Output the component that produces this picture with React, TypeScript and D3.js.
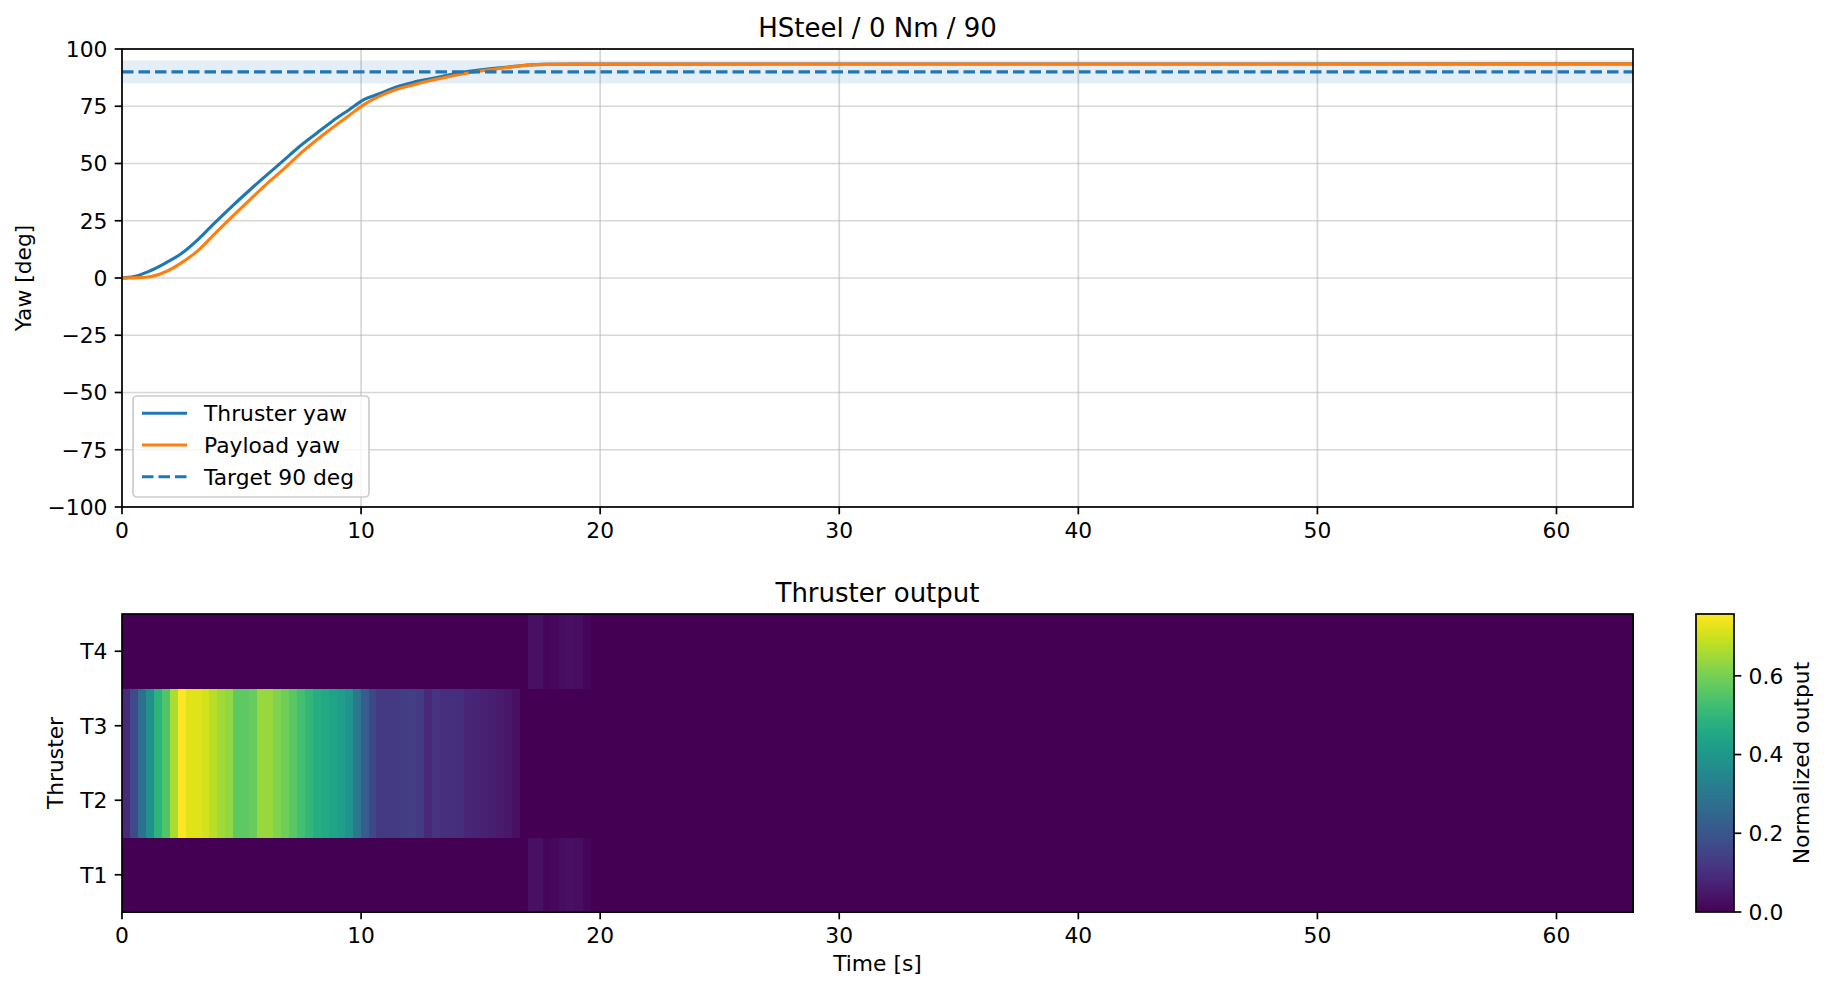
import React from "react";
import * as d3 from "d3";

// yaw response
const times = [0, 0.5, 1.1, 1.8, 2.5, 3.2, 3.9, 4.6, 5.3, 6.0, 6.7, 7.4, 8.1, 8.8, 9.5, 10.1, 10.8, 11.5, 12.2, 12.9, 13.6, 14.3, 15.0, 15.7, 16.4, 17.0, 17.7, 19.1, 63.2];
const thrusterYaw = [0, 0.6, 2.8, 6.4, 10.8, 17.0, 24.3, 31.3, 38.0, 44.5, 50.8, 57.2, 62.9, 68.5, 73.5, 77.8, 80.6, 83.5, 85.5, 87.0, 88.5, 89.9, 90.9, 91.7, 92.4, 93.0, 93.3, 93.4, 93.5];
const payloadYaw = [0, 0.05, 0.4, 2.6, 6.7, 12.2, 19.5, 26.7, 33.7, 40.6, 47.0, 53.8, 59.9, 65.6, 71.0, 75.6, 79.5, 82.4, 84.4, 86.2, 87.8, 89.2, 90.4, 91.4, 92.3, 93.0, 93.3, 93.4, 93.5];
const targetYaw = 90;
const targetBand = [85, 95];

const yawTicks = [-100, -75, -50, -25, 0, 25, 50, 75, 100];
const timeTicks = [0, 10, 20, 30, 40, 50, 60];
const tEnd = 63.2;

// thruster output heatmap (one column per sample)
const thrusterNames = ["T1", "T2", "T3", "T4"];
const nCols = 190;
const middleThrusters = [0.09, 0.17, 0.28, 0.38, 0.49, 0.55, 0.66, 0.757, 0.72, 0.72, 0.705, 0.68, 0.65, 0.63, 0.57, 0.57, 0.58, 0.64, 0.64, 0.61, 0.59, 0.56, 0.53, 0.5, 0.47, 0.46, 0.44, 0.42, 0.39, 0.3, 0.22, 0.16, 0.13, 0.13, 0.13, 0.135, 0.14, 0.125, 0.085, 0.115, 0.105, 0.105, 0.1, 0.08, 0.075, 0.07, 0.065, 0.055, 0.045, 0.03];
const outerStart = 51;
const outerThrusters = [0.03, 0.03, 0.01, 0.015, 0.025, 0.03, 0.025, 0.01];
const cbarTicks = [0, 0.2, 0.4, 0.6];

const FONT = "DejaVu Sans";
const FS = 21.8;
const TITLE_FS = 26;

const top = { l: 122, r: 1633, t: 49, b: 507 };
const heat = { l: 122, r: 1633, t: 614, b: 912 };
const cbar = { l: 1696, r: 1734, t: 614, b: 912 };

function padRow(start: number, vals: number[]) {
  const row = new Array(nCols).fill(0);
  vals.forEach((v, i) => (row[start + i] = v));
  return row;
}

const rows = [
  padRow(outerStart, outerThrusters),
  padRow(0, middleThrusters),
  padRow(0, middleThrusters),
  padRow(outerStart, outerThrusters),
];

const fmtYaw = (v: number) => (v < 0 ? "\u2212" + Math.abs(v) : String(v));

export default function App() {
  const x = d3.scaleLinear().domain([0, tEnd]).range([top.l, top.r]);
  const y = d3.scaleLinear().domain([-100, 100]).range([top.b, top.t]);
  const rowY = d3.scaleBand().domain([...thrusterNames].reverse()).range([heat.t, heat.b]);
  const vmax = d3.max(middleThrusters) as number;
  const color = d3.scaleSequential(d3.interpolateViridis).domain([0, vmax]);
  const cy = d3.scaleLinear().domain([0, vmax]).range([cbar.b, cbar.t]);
  const dt = tEnd / nCols;

  const line = d3
    .line<number>()
    .x((_, i) => x(times[i]))
    .y((d) => y(d))
    .curve(d3.curveMonotoneX);

  const gridColor = "#b0b0b0";
  const tick = 7.3;
  const sw = 1.7;

  const legend = [
    { label: "Thruster yaw", color: "#1f77b4", dash: "" },
    { label: "Payload yaw", color: "#ff7f0e", dash: "" },
    { label: "Target 90 deg", color: "#1f77b4", dash: "11.5,5" },
  ];

  return (
    <svg width={1829} height={992} style={{ position: "absolute", left: 0, top: 0 }} fontFamily={FONT}>
      <defs>
        <clipPath id="topClip">
          <rect x={top.l} y={top.t} width={top.r - top.l} height={top.b - top.t} />
        </clipPath>
        <linearGradient id="viridis" x1="0" y1="1" x2="0" y2="0">
          {d3.range(0, 1.0001, 0.05).map((f) => (
            <stop key={f} offset={f} stopColor={d3.interpolateViridis(f)} />
          ))}
        </linearGradient>
      </defs>
      <rect width={1829} height={992} fill="#fff" />

      {/* ---------- top: yaw ---------- */}
      <g>
        {yawTicks.map((t) => (
          <line key={"gy" + t} x1={top.l} x2={top.r} y1={y(t)} y2={y(t)} stroke={gridColor} strokeOpacity={0.5} strokeWidth={1.7} />
        ))}
        {timeTicks.map((t) => (
          <line key={"gx" + t} x1={x(t)} x2={x(t)} y1={top.t} y2={top.b} stroke={gridColor} strokeOpacity={0.5} strokeWidth={1.7} />
        ))}
        <g clipPath="url(#topClip)">
          <rect x={top.l} width={top.r - top.l} y={y(targetBand[1])} height={y(targetBand[0]) - y(targetBand[1])} fill="#1f77b4" fillOpacity={0.12} />
          <path d={line(thrusterYaw) || ""} fill="none" stroke="#1f77b4" strokeWidth={3.1} />
          <path d={line(payloadYaw) || ""} fill="none" stroke="#ff7f0e" strokeWidth={3.1} />
          <line x1={x(0)} x2={top.r} y1={y(targetYaw)} y2={y(targetYaw)} stroke="#1f77b4" strokeWidth={3.1} strokeDasharray="11.5,5" />
        </g>
        <rect x={top.l} y={top.t} width={top.r - top.l} height={top.b - top.t} fill="none" stroke="#000" strokeWidth={sw} />
        {yawTicks.map((t) => (
          <g key={"ty" + t}>
            <line x1={top.l - tick} x2={top.l} y1={y(t)} y2={y(t)} stroke="#000" strokeWidth={sw} />
            <text x={top.l - tick - 7.3} y={y(t)} dy="0.36em" textAnchor="end" fontSize={FS}>
              {fmtYaw(t)}
            </text>
          </g>
        ))}
        {timeTicks.map((t) => (
          <g key={"tx" + t}>
            <line x1={x(t)} x2={x(t)} y1={top.b} y2={top.b + tick} stroke="#000" strokeWidth={sw} />
            <text x={x(t)} y={top.b + tick + 7.3} dy="0.76em" textAnchor="middle" fontSize={FS}>
              {t}
            </text>
          </g>
        ))}
        <text transform={`translate(31,${(top.t + top.b) / 2}) rotate(-90)`} textAnchor="middle" fontSize={FS}>
          Yaw [deg]
        </text>
        <text x={(top.l + top.r) / 2} y={top.t - 12.5} textAnchor="middle" fontSize={TITLE_FS}>
          HSteel / 0 Nm / 90
        </text>

        {/* legend */}
        <rect x={133} y={396} width={236} height={101} rx={4} fill="#fff" fillOpacity={0.8} stroke="#cccccc" strokeWidth={1.7} />
        {legend.map((d, i) => {
          const cyL = 413.3 + i * 31.7;
          return (
            <g key={d.label}>
              <line x1={142} x2={187} y1={cyL} y2={cyL} stroke={d.color} strokeWidth={3.1} strokeDasharray={d.dash || undefined} />
              <text x={204} y={cyL} dy="0.36em" fontSize={FS}>
                {d.label}
              </text>
            </g>
          );
        })}
      </g>

      {/* ---------- bottom: thruster heatmap ---------- */}
      <g shapeRendering="crispEdges">
        {rows.map((row, r) =>
          row.map((v, c) => (
            <rect
              key={r + "-" + c}
              x={x(c * dt)}
              y={rowY(thrusterNames[r])}
              width={x((c + 1) * dt) - x(c * dt) + 0.6}
              height={rowY.bandwidth() + 0.6}
              fill={color(v)}
            />
          ))
        )}
      </g>
      <g>
        <rect x={heat.l} y={heat.t} width={heat.r - heat.l} height={heat.b - heat.t} fill="none" stroke="#000" strokeWidth={sw} />
        {thrusterNames.map((n) => {
          const yy = (rowY(n) as number) + rowY.bandwidth() / 2;
          return (
            <g key={n}>
              <line x1={heat.l - tick} x2={heat.l} y1={yy} y2={yy} stroke="#000" strokeWidth={sw} />
              <text x={heat.l - tick - 7.3} y={yy} dy="0.36em" textAnchor="end" fontSize={FS}>
                {n}
              </text>
            </g>
          );
        })}
        {timeTicks.map((t) => (
          <g key={"hx" + t}>
            <line x1={x(t)} x2={x(t)} y1={heat.b} y2={heat.b + tick} stroke="#000" strokeWidth={sw} />
            <text x={x(t)} y={heat.b + tick + 7.3} dy="0.76em" textAnchor="middle" fontSize={FS}>
              {t}
            </text>
          </g>
        ))}
        <text x={(heat.l + heat.r) / 2} y={971} textAnchor="middle" fontSize={FS}>
          Time [s]
        </text>
        <text transform={`translate(63,${(heat.t + heat.b) / 2}) rotate(-90)`} textAnchor="middle" fontSize={FS}>
          Thruster
        </text>
        <text x={(heat.l + heat.r) / 2} y={heat.t - 12.5} textAnchor="middle" fontSize={TITLE_FS}>
          Thruster output
        </text>
      </g>

      {/* ---------- colorbar ---------- */}
      <g>
        <rect x={cbar.l} y={cbar.t} width={cbar.r - cbar.l} height={cbar.b - cbar.t} fill="url(#viridis)" stroke="#000" strokeWidth={sw} />
        {cbarTicks.map((t) => (
          <g key={"cb" + t}>
            <line x1={cbar.r} x2={cbar.r + tick} y1={cy(t)} y2={cy(t)} stroke="#000" strokeWidth={sw} />
            <text x={cbar.r + tick + 7.3} y={cy(t)} dy="0.36em" fontSize={FS}>
              {t.toFixed(1)}
            </text>
          </g>
        ))}
        <text transform={`translate(1809,${(cbar.t + cbar.b) / 2}) rotate(-90)`} textAnchor="middle" fontSize={FS}>
          Normalized output
        </text>
      </g>
    </svg>
  );
}
